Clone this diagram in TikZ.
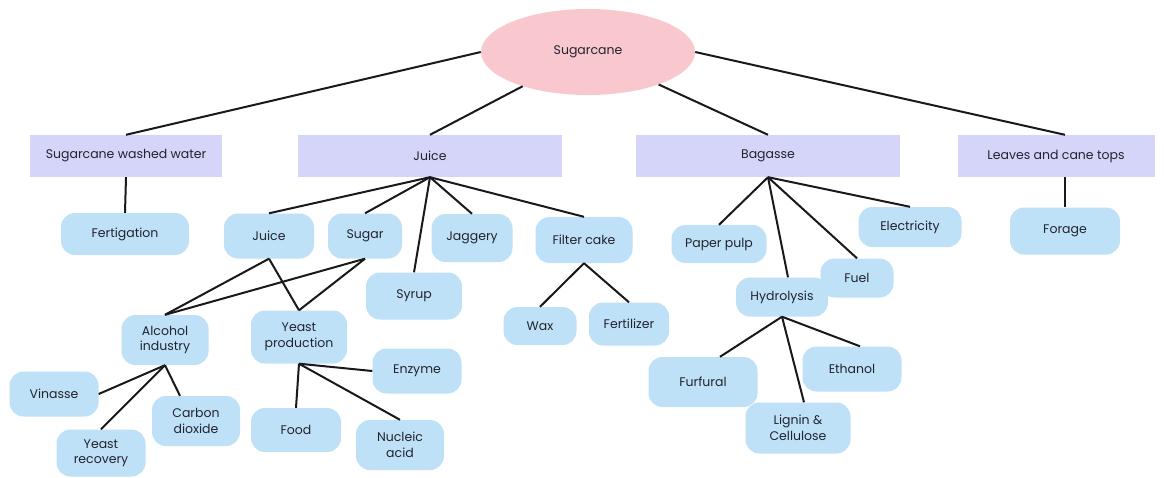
\documentclass[tikz,border=0pt]{standalone}
\usepackage{fontspec}
\setmainfont{Poppins}
\usetikzlibrary{shapes.geometric}
\definecolor{pinkfill}{RGB}{248,200,206}
\definecolor{lavfill}{RGB}{212,213,249}
\definecolor{bluefill}{RGB}{190,225,248}
\definecolor{txt}{RGB}{35,35,45}
\begin{document}
\begin{tikzpicture}[x=1pt,y=-1pt,
  every node/.style={font=\fontsize{12.5}{15.5}\selectfont, text=txt, align=center, inner sep=0pt},
  rootnode/.style={ellipse, fill=pinkfill, minimum width=214pt, minimum height=86pt},
  catbox/.style={rectangle, fill=lavfill, minimum height=42pt},
  leaf/.style={rectangle, rounded corners=14pt, fill=bluefill},
  link/.style={draw=black!90, line width=2pt}
]
\fill[white] (0,0) rectangle (1164,477);
\useasboundingbox (0,0) rectangle (1164,477);

% root
\node[rootnode] (sug) at (588,52) {Sugarcane};

% categories
\node[catbox, minimum width=192pt] (ww) at (126,156) {Sugarcane washed water};
\node[catbox, minimum width=264pt] (juice) at (430,156) {Juice};
\node[catbox, minimum width=264pt] (bag) at (768,156) {Bagasse};
\node[catbox, minimum width=197pt] (lv) at (1056,156) {Leaves and cane tops};

% leaves
\node[leaf, minimum width=128pt, minimum height=42pt] (fert) at (125,234) {Fertigation};
\node[leaf, minimum width=90pt, minimum height=45pt] (jc) at (269,236) {Juice};
\node[leaf, minimum width=74pt, minimum height=45pt] (sugar) at (365,236) {Sugar};
\node[leaf, minimum width=81pt, minimum height=48pt] (jag) at (472,238) {Jaggery};
\node[leaf, minimum width=96pt, minimum height=47pt] (syrup) at (414,296) {Syrup};
\node[leaf, minimum width=97pt, minimum height=46pt] (fc) at (584,240) {Filter cake};
\node[leaf, minimum width=87pt, minimum height=50pt] (alc) at (165,340) {Alcohol\\industry};
\node[leaf, minimum width=96pt, minimum height=53pt] (yp) at (299,337) {Yeast\\production};
\node[leaf, minimum width=89pt, minimum height=45pt] (vin) at (54,394) {Vinasse};
\node[leaf, minimum width=89pt, minimum height=47pt] (yr) at (101,453) {Yeast\\recovery};
\node[leaf, minimum width=88pt, minimum height=50pt] (co2) at (196,421) {Carbon\\dioxide};
\node[leaf, minimum width=89pt, minimum height=45pt] (enz) at (417,371) {Enzyme};
\node[leaf, minimum width=90pt, minimum height=44pt] (food) at (296,430) {Food};
\node[leaf, minimum width=88pt, minimum height=50pt] (nuc) at (400,445) {Nucleic\\acid};
\node[leaf, minimum width=73pt, minimum height=38pt] (wax) at (540,326) {Wax};
\node[leaf, minimum width=80pt, minimum height=43pt] (ferti) at (629,324) {Fertilizer};
\node[leaf, minimum width=95pt, minimum height=38pt] (pp) at (719,244) {Paper pulp};
\node[leaf, minimum width=92pt, minimum height=39pt] (hyd) at (782,297) {Hydrolysis};
\node[leaf, minimum width=73pt, minimum height=39pt] (fuel) at (857,278) {Fuel};
\node[leaf, minimum width=103pt, minimum height=40pt] (elec) at (910,227) {Electricity};
\node[leaf, minimum width=110pt, minimum height=47pt] (forage) at (1065,231) {Forage};
\node[leaf, minimum width=109pt, minimum height=50pt] (furf) at (703,382) {Furfural};
\node[leaf, minimum width=105pt, minimum height=51pt] (lig) at (798,428) {Lignin \&\\Cellulose};
\node[leaf, minimum width=99pt, minimum height=45pt] (eth) at (852,369) {Ethanol};

% root links
\draw[link] (sug.west) -- (ww.north);
\draw[link] (sug) -- (juice.north);
\draw[link] (sug) -- (bag.north);
\draw[link] (sug.east) -- (forage.north |- lv.north);

% category links
\draw[link] (ww.south) -- (fert.north);
\draw[link] (forage.north |- lv.south) -- (forage.north);
\foreach \c in {jc,sugar,syrup,jag,fc} \draw[link] (juice.south) -- (\c.north);
\foreach \c in {pp,fuel,elec} \draw[link] (bag.south) -- (\c.north);
\draw[link] (bag.south) -- ([xshift=6pt]hyd.north);

% juice sub-links
\draw[link] (jc.south) -- (alc.north);
\draw[link] (jc.south) -- (yp.north);
\draw[link] (sugar.south) -- (alc.north);
\draw[link] (sugar.south) -- (yp.north);

\draw[link] (alc.south) -- (vin.east);
\draw[link] (alc.south) -- (yr.north);
\draw[link] (alc.south) -- ([xshift=-16pt]co2.north);

\draw[link] (yp.south) -- (enz.west);
\draw[link] (yp.south) -- (food.north);
\draw[link] (yp.south) -- (nuc.north);

\draw[link] (fc.south) -- (wax.north);
\draw[link] (fc.south) -- (ferti.north);

% hydrolysis
\draw[link] (hyd.south) -- ([xshift=17pt]furf.north);
\draw[link] (hyd.south) -- ([xshift=6pt]lig.north);
\draw[link] (hyd.south) -- ([xshift=8pt]eth.north);
\end{tikzpicture}
\end{document}
